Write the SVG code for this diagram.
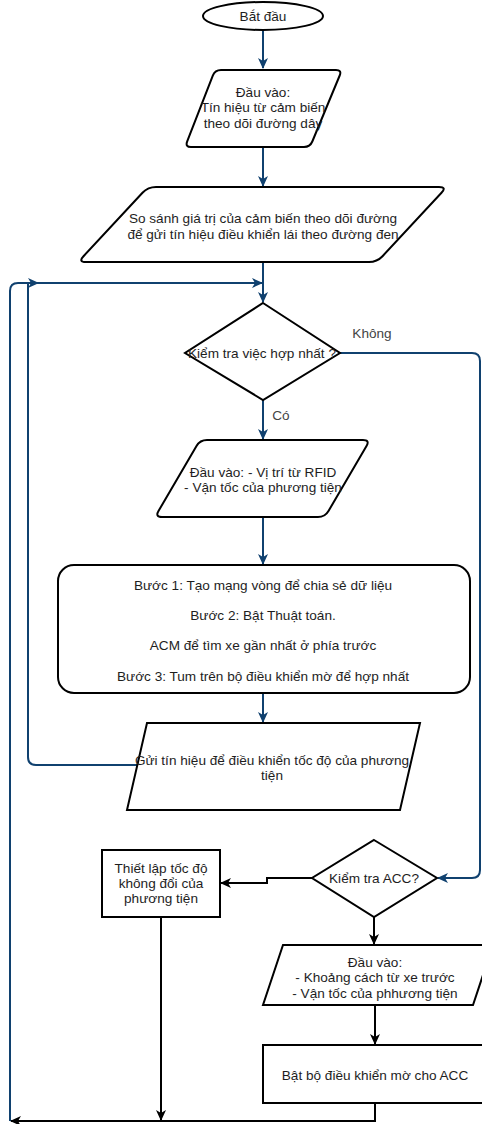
<svg xmlns="http://www.w3.org/2000/svg" width="482" height="1124" viewBox="0 0 482 1124">
<style>
.n{fill:#fff;stroke:#000;stroke-width:2}
.t{font-family:"Liberation Sans",Arial,sans-serif;font-size:13.6px;fill:#1e1e1e;text-anchor:middle}
.cb{fill:none;stroke:#10416f;stroke-width:2}
.ck{fill:none;stroke:#000;stroke-width:2}
</style>
<defs>
<marker id="ab" markerWidth="11" markerHeight="10" refX="10" refY="5" orient="auto" markerUnits="userSpaceOnUse"><path d="M0,0 L11,5 L0,10 L3,5 Z" fill="#10416f"/></marker>
<marker id="ak" markerWidth="11" markerHeight="10" refX="10" refY="5" orient="auto" markerUnits="userSpaceOnUse"><path d="M0,0 L11,5 L0,10 L3,5 Z" fill="#000"/></marker>
</defs>
<rect width="482" height="1124" fill="#fff"/>
<g id="connectors">
<path class="cb" d="M263 30 V68" marker-end="url(#ab)"/>
<path class="cb" d="M263 147 V186" marker-end="url(#ab)"/>
<path class="cb" d="M263 262 V302" marker-end="url(#ab)"/>
<path class="cb" d="M10 1121 V291 Q10 283 18 283 H262" marker-end="url(#ab)"/>
<path class="cb" d="M137 765 H36 Q28 765 28 757 V283 H38" marker-end="url(#ab)"/>
<path class="cb" d="M340 353 H472 Q480 353 480 361 V870 Q480 878 472 878 H438" marker-end="url(#ab)"/>
<path class="cb" d="M263 400 V439" marker-end="url(#ab)"/>
<path class="cb" d="M263 517 V564" marker-end="url(#ab)"/>
<path class="cb" d="M263 693 V722" marker-end="url(#ab)"/>
<path class="ck" d="M312 878 H267 V883 H221" marker-end="url(#ak)"/>
<path class="ck" d="M374 917 V944" marker-end="url(#ak)"/>
<path class="ck" d="M375 1005 V1044" marker-end="url(#ak)"/>
<path class="ck" d="M161 917 V1120" marker-end="url(#ak)"/>
<path class="ck" d="M375 1103 V1121 H11" marker-end="url(#ak)"/>
</g>
<g id="start">
<ellipse class="n" cx="263" cy="16" rx="60" ry="14"/>
<text class="t" x="263" y="20.5">Bắt đầu</text>
</g>
<g id="input1">
<path class="n" d="M221 70 H336 Q342 70 339.7 75.5 L312.3 141.5 Q310 147 304 147 H191 Q185 147 187.2 141.4 L212.8 75.6 Q215 70 221 70 Z"/>
<text class="t" x="263" y="96.5">Đầu vào:</text>
<text class="t" x="263" y="111.5">Tín hiệu từ cảm biến</text>
<text class="t" x="263" y="127.5">theo dõi đường dây</text>
</g>
<g id="compare">
<path class="n" d="M156 187 H439 Q447 187 441.5 192.8 L382.5 256.2 Q377 262 369 262 H86 Q78 262 83.5 256.2 L142.5 192.8 Q148 187 156 187 Z"/>
<text class="t" x="263" y="222.5">So sánh giá trị của cảm biến theo dõi đường</text>
<text class="t" x="263" y="238.5">để gửi tín hiệu điều khiển lái theo đường đen</text>
</g>
<g id="check-merge">
<polygon class="n" points="263,303 340,353 263,400 185,353"/>
<text class="t" x="262" y="357.5">Kiểm tra việc hợp nhất ?</text>
</g>
<g id="labels">
<text class="t" x="372" y="337.5" style="fill:#444">Không</text>
<text class="t" x="281" y="419.5" style="fill:#444">Có</text>
</g>
<g id="input2">
<path class="n" d="M207 440 H363 Q370 440 366.5 446 L328.5 511 Q325 517 318 517 H162 Q155 517 158.5 511 L196.5 446 Q200 440 207 440 Z"/>
<text class="t" x="263" y="476.5">Đầu vào: - Vị trí từ RFID</text>
<text class="t" x="263" y="491.5">- Vận tốc của phương tiện</text>
</g>
<g id="steps">
<rect class="n" x="58" y="565" width="412" height="128" rx="16"/>
<text class="t" x="263" y="589.5">Bước 1: Tạo mạng vòng để chia sẻ dữ liệu</text>
<text class="t" x="263" y="619.5">Bước 2: Bật Thuật toán.</text>
<text class="t" x="263" y="649.5">ACM để tìm xe gần nhất ở phía trước</text>
<text class="t" x="263" y="680.5">Bước 3: Tum trên bộ điều khiển mờ để hợp nhất</text>
</g>
<g id="send-signal">
<polygon class="n" points="147,723 420,723 400,810 127,810"/>
<text class="t" x="272" y="764.5">Gửi tín hiệu để điều khiển tốc độ của phương</text>
<text class="t" x="272" y="779.5">tiện</text>
</g>
<g id="check-acc">
<polygon class="n" points="374,840 437,878 374,917 312,878"/>
<text class="t" x="374" y="882.5">Kiểm tra ACC?</text>
</g>
<g id="const-speed">
<rect class="n" x="102" y="850" width="118" height="67"/>
<text class="t" x="161" y="872.5">Thiết lập tốc độ</text>
<text class="t" x="161" y="887.5">không đổi của</text>
<text class="t" x="161" y="902.5">phương tiện</text>
</g>
<g id="input3">
<polygon class="n" points="283,945 493,945 473,1005 263,1005"/>
<text class="t" x="375" y="966.5">Đầu vào:</text>
<text class="t" x="375" y="981.5">- Khoảng cách từ xe trước</text>
<text class="t" x="375" y="997.5">- Vận tốc của phhương tiện</text>
</g>
<g id="fuzzy-acc">
<rect class="n" x="263" y="1045" width="224" height="58"/>
<text class="t" x="375" y="1079.5">Bật bộ điều khiển mờ cho ACC</text>
</g>
</svg>
